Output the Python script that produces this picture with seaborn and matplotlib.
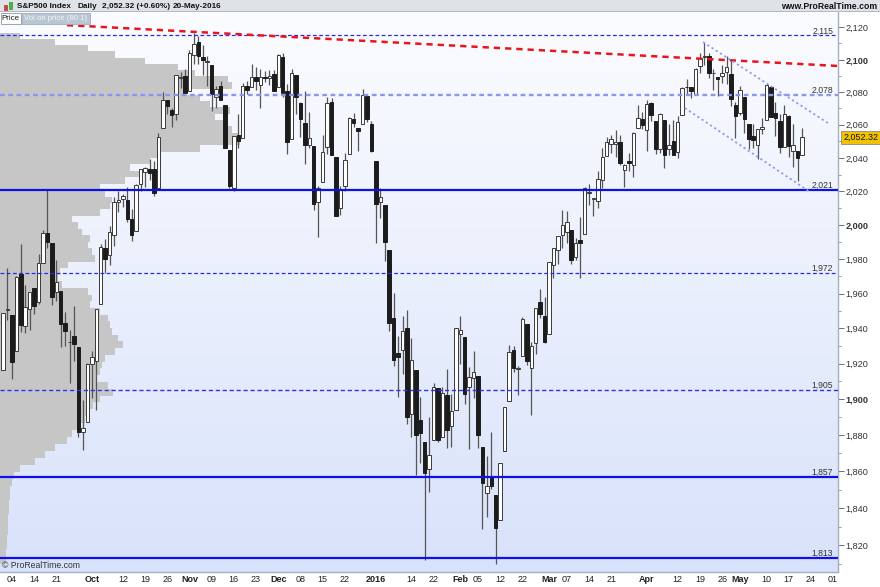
import numpy as np
import pandas as pd
import matplotlib
matplotlib.use("Agg")
import matplotlib.pyplot as plt
import seaborn as sb
from matplotlib.colors import LinearSegmentedColormap
from matplotlib.patches import Rectangle
from matplotlib.ticker import FixedLocator, NullFormatter

# S&P500 daily candles, 02-Sep-2015 .. 20-May-2016
holidays = ['2015-09-07', '2015-11-26', '2015-12-25', '2016-01-01', '2016-01-18',
            '2016-02-15', '2016-03-25', '2016-05-30']
days = pd.bdate_range('2015-09-02', '2016-06-01')
days = days[~days.isin(pd.to_datetime(holidays))]

opens = [
    1916.52, 1950.79, 1947.76, 1927.30, 1971.45, 1941.59, 1951.45, 1963.06, 1955.10, 1978.02,
    1995.33, 1989.66, 1960.84, 1961.39, 1943.24, 1932.24, 1935.93, 1929.18, 1881.90, 1887.14,
    1919.65, 1921.77, 1954.33, 1986.63, 1982.34, 1994.01, 2013.73, 2015.65, 2015.00, 2003.66,
    1996.47, 2024.37, 2031.73, 2033.13, 2033.47, 2021.88, 2058.19, 2075.08, 2068.75, 2066.48,
    2088.35, 2090.00,
    2080.76, 2102.63, 2110.60, 2101.68, 2098.60, 2096.56, 2077.19, 2083.41, 2072.29, 2044.64,
    2022.08, 2053.67, 2051.99, 2083.70, 2082.82, 2089.41, 2084.42, 2089.30, 2088.82, 2090.95,
    2082.93, 2101.71, 2080.71, 2051.24, 2090.42, 2073.39, 2061.17, 2047.93, 2047.27, 2013.37,
    2025.55, 2046.50, 2073.76, 2040.81, 2010.27, 2023.15, 2042.20, 2063.52, 2057.77, 2060.54,
    2077.34, 2060.59,
    2038.20, 2013.78, 2011.71, 1985.32, 1945.97, 1926.12, 1927.83, 1940.34, 1891.68, 1916.68,
    1888.66, 1876.18, 1861.46, 1877.40, 1906.28, 1878.79, 1902.52, 1885.22, 1894.00,
    1936.94, 1935.26, 1907.07, 1911.67, 1913.07, 1873.25, 1848.46, 1857.10, 1847.00, 1833.40,
    1871.44, 1898.80, 1927.57, 1916.74, 1924.44, 1942.38, 1917.56, 1931.87, 1954.95, 1947.13,
    1937.09, 1976.60, 1985.60, 1994.01, 1996.11, 1996.88, 1981.44, 1990.97, 1994.71, 2019.27,
    2015.27, 2014.24, 2026.90, 2041.16, 2048.64, 2048.64, 2049.80, 2032.48, 2037.89, 2035.75,
    2058.27, 2063.77,
    2056.62, 2073.19, 2062.50, 2045.56, 2063.01, 2045.54, 2050.23, 2043.72, 2065.92, 2082.89,
    2083.10, 2078.83, 2096.05, 2101.52, 2102.09, 2091.49, 2089.37, 2089.84, 2092.57, 2090.93,
    2071.82,
    2067.17, 2077.18, 2060.30, 2052.95, 2047.77, 2057.55, 2062.63, 2083.29, 2067.17, 2062.50,
    2046.53, 2065.04, 2044.38, 2044.21, 2041.88]

highs = [
    1948.91, 1975.01, 1947.76, 1970.42, 1988.63, 1965.29, 1961.05, 1963.06, 1983.19, 1997.26,
    2020.86, 1989.66, 1979.64, 1961.39, 1949.52, 1938.88, 1952.89, 1929.18, 1899.48, 1920.53,
    1927.21, 1951.36, 1989.17, 1991.62, 1999.31, 2016.50, 2020.13, 2018.66, 2022.34, 2009.56,
    2024.15, 2033.54, 2034.45, 2039.12, 2037.97, 2055.20, 2079.74, 2075.14, 2070.37, 2090.35,
    2092.52, 2094.32,
    2106.20, 2116.48, 2114.59, 2108.78, 2101.91, 2096.56, 2083.67, 2086.94, 2072.29, 2044.64,
    2053.22, 2066.69, 2085.31, 2086.74, 2097.06, 2095.61, 2094.12, 2093.00, 2093.29, 2093.81,
    2103.37, 2104.27, 2085.00, 2093.84, 2090.42, 2073.85, 2080.33, 2067.65, 2047.27, 2022.92,
    2053.87, 2076.72, 2076.37, 2040.81, 2022.90, 2042.74, 2064.73, 2067.36, 2057.77, 2081.56,
    2077.34, 2062.54,
    2038.20, 2021.94, 2011.71, 1985.32, 1960.40, 1935.65, 1947.38, 1950.33, 1934.47, 1916.68,
    1901.44, 1876.18, 1889.85, 1908.85, 1906.28, 1906.73, 1916.99, 1902.96, 1940.24,
    1947.20, 1935.26, 1918.01, 1927.35, 1913.07, 1873.25, 1868.25, 1881.60, 1847.00, 1864.78,
    1895.77, 1930.68, 1930.00, 1918.78, 1946.70, 1942.38, 1932.08, 1951.83, 1962.96, 1958.27,
    1978.35, 1986.51, 1993.69, 2009.13, 2008.16, 1996.88, 1992.69, 2005.08, 2022.37, 2024.57,
    2015.94, 2032.02, 2046.24, 2052.36, 2053.91, 2056.60, 2053.64, 2036.04, 2042.67, 2055.91,
    2072.21, 2067.92,
    2075.07, 2074.02, 2062.50, 2067.33, 2063.01, 2060.63, 2062.93, 2065.05, 2083.18, 2087.84,
    2083.22, 2094.66, 2104.05, 2111.05, 2103.78, 2094.32, 2089.37, 2096.87, 2102.06, 2099.30,
    2073.85,
    2083.42, 2077.18, 2060.30, 2060.23, 2057.72, 2064.15, 2084.87, 2083.29, 2073.99, 2066.79,
    2071.88, 2065.69, 2060.61, 2044.21, 2058.35]

lows = [
    1916.52, 1944.72, 1911.21, 1927.30, 1937.88, 1937.19, 1939.19, 1948.27, 1954.30, 1977.93,
    1986.73, 1953.45, 1955.80, 1929.22, 1930.19, 1908.92, 1921.50, 1879.21, 1871.91, 1887.14,
    1900.70, 1893.70, 1954.33, 1971.99, 1976.44, 1987.53, 2007.61, 2010.55, 2001.78, 1990.73,
    1996.47, 2020.46, 2022.31, 2026.61, 2017.22, 2021.88, 2058.19, 2066.53, 2058.84, 2063.11,
    2082.63, 2079.34,
    2080.76, 2097.51, 2096.98, 2090.41, 2083.74, 2068.24, 2069.91, 2074.85, 2045.66, 2022.02,
    2019.94, 2045.90, 2051.99, 2078.76, 2082.82, 2081.39, 2070.29, 2086.30, 2084.13, 2080.41,
    2082.93, 2077.11, 2042.35, 2051.24, 2066.78, 2052.32, 2036.53, 2045.67, 2008.80, 1993.26,
    2025.55, 2042.43, 2041.66, 2005.33, 2005.93, 2020.49, 2042.20, 2058.73, 2044.20, 2060.54,
    2061.97, 2043.62,
    1989.68, 2004.17, 1979.05, 1938.83, 1918.46, 1901.10, 1914.35, 1886.41, 1878.93, 1857.83,
    1864.60, 1812.29, 1848.98, 1877.40, 1875.97, 1878.79, 1872.70, 1873.65, 1894.00,
    1920.03, 1897.29, 1872.23, 1900.52, 1872.65, 1828.46, 1834.94, 1850.32, 1810.10, 1833.40,
    1871.44, 1898.80, 1915.09, 1902.17, 1924.44, 1919.44, 1891.00, 1925.41, 1945.78, 1931.81,
    1937.09, 1968.80, 1977.37, 1986.77, 1989.30, 1977.43, 1979.84, 1969.25, 1994.71, 2012.05,
    2005.23, 2010.04, 2022.16, 2041.16, 2043.14, 2040.57, 2035.76, 2022.49, 2031.96, 2028.31,
    2058.27, 2057.46,
    2043.98, 2062.57, 2042.56, 2043.09, 2033.80, 2041.69, 2041.88, 2039.74, 2065.92, 2078.13,
    2076.31, 2078.83, 2091.68, 2096.32, 2088.52, 2081.20, 2077.52, 2085.80, 2085.06, 2071.62,
    2052.28,
    2066.11, 2054.89, 2045.55, 2045.77, 2039.45, 2054.31, 2062.63, 2064.46, 2053.13, 2043.13,
    2046.53, 2040.82, 2034.49, 2025.91, 2041.88]

closes = [
    1948.86, 1951.13, 1921.22, 1969.41, 1942.04, 1952.29, 1961.05, 1953.03, 1978.09, 1995.31,
    1990.20, 1958.03, 1966.97, 1942.74, 1938.76, 1932.24, 1931.34, 1881.77, 1884.09, 1920.03,
    1923.82, 1951.36, 1987.05, 1979.92, 1995.83, 2013.43, 2014.89, 2017.46, 2003.69, 1994.24,
    2023.86, 2033.11, 2033.66, 2030.77, 2018.94, 2052.51, 2075.15, 2071.18, 2065.89, 2090.35,
    2089.41, 2079.36,
    2104.05, 2109.79, 2102.31, 2099.93, 2099.20, 2078.58, 2081.72, 2075.00, 2045.97, 2023.04,
    2053.19, 2050.44, 2083.58, 2081.24, 2089.17, 2086.59, 2089.14, 2088.87, 2090.11, 2080.41,
    2102.63, 2079.51, 2049.62, 2091.69, 2077.07, 2063.59, 2047.62, 2052.23, 2012.37, 2021.94,
    2043.41, 2073.07, 2041.89, 2005.55, 2021.15, 2038.97, 2064.29, 2060.99, 2056.50, 2078.36,
    2063.36, 2043.94,
    2012.66, 2016.71, 1990.26, 1943.09, 1922.03, 1923.67, 1938.68, 1890.28, 1921.84, 1880.33,
    1881.33, 1859.33, 1868.99, 1906.90, 1877.08, 1903.63, 1882.95, 1893.36, 1940.24,
    1939.38, 1903.03, 1912.53, 1915.45, 1880.05, 1853.44, 1852.21, 1851.86, 1829.08, 1864.78,
    1895.58, 1926.82, 1917.83, 1917.78, 1945.50, 1921.27, 1929.80, 1951.70, 1948.05, 1932.23,
    1978.35, 1986.45, 1993.40, 1999.99, 2001.76, 1979.26, 1989.26, 1989.57, 2022.19, 2019.64,
    2015.93, 2027.22, 2040.59, 2049.58, 2051.60, 2049.80, 2036.71, 2035.94, 2037.05, 2055.01,
    2063.95, 2059.74,
    2072.78, 2066.13, 2045.17, 2066.66, 2041.91, 2047.60, 2041.99, 2061.72, 2082.42, 2082.78,
    2080.73, 2094.34, 2100.80, 2102.40, 2091.48, 2091.58, 2087.79, 2091.70, 2095.15, 2075.81,
    2065.30,
    2081.43, 2063.37, 2051.12, 2050.63, 2057.14, 2058.69, 2084.39, 2064.46, 2064.11, 2046.61,
    2066.66, 2047.21, 2047.63, 2040.04, 2052.32]

# volume on price, 80 rows from the low to the high (bottom row first)
prof_low, prof_high = 1810.10, 2116.48
prof_vol = [6, 6, 7, 7, 8, 8, 8, 9, 9, 10, 10, 12, 14, 20, 35, 45, 55, 67, 72, 80,
            85, 88, 93, 100, 113, 108, 97, 100, 102, 105, 115, 123, 118, 112, 110, 108, 100, 90, 92, 88,
            62, 58, 60, 68, 95, 92, 88, 90, 82, 78, 72, 100, 110, 112, 105, 100, 125, 140, 130, 150,
            160, 200, 240, 238, 232, 225, 215, 230, 210, 200, 185, 232, 228, 195, 178, 145, 115, 88, 55, 20]

# horizontal levels and trend lines
levels = [2115, 2078, 2021, 1972, 1905, 1857, 1813]
red_x, red_y = [14.4, 188.1], [2121.4, 2096.0]
chan_up_x, chan_up_y = [157.7, 185.8], [2110.8, 2061.1]
chan_lo_x, chan_lo_y = [153.6, 181.8], [2070.2, 2019.6]

tick_dates = ['2015-09-04', '2015-09-14', '2015-09-21', '2015-10-01', '2015-10-12', '2015-10-19',
              '2015-10-26', '2015-11-02', '2015-11-09', '2015-11-16', '2015-11-23', '2015-12-01',
              '2015-12-08', '2015-12-15', '2015-12-22', '2016-01-04', '2016-01-14', '2016-01-22',
              '2016-02-01', '2016-02-05', '2016-02-12', '2016-02-22', '2016-03-01', '2016-03-07',
              '2016-03-14', '2016-03-21', '2016-04-01', '2016-04-12', '2016-04-19', '2016-04-26',
              '2016-05-02', '2016-05-10', '2016-05-17', '2016-05-24', '2016-06-01']
tick_labels = ['04', '14', '21', 'Oct', '12', '19', '26', 'Nov', '09', '16', '23', 'Dec', '08', '15',
               '22', '2016', '14', '22', 'Feb', '05', '12', '22', 'Mar', '07', '14', '21', 'Apr',
               '12', '19', '26', 'May', '10', '17', '24', '01']

#Style
sb.set_style("white")
plt.rcParams['font.family'] = ['Liberation Sans', 'DejaVu Sans']

W, H = 880, 587
fig = plt.figure(figsize=(8.8, 5.87), dpi=100)
pos = [0, 15 / H, 838 / W, 560 / H]

bg = fig.add_axes(pos, zorder=0)
grad = np.linspace(0, 1, 256).reshape(-1, 1)
bg.imshow(grad, aspect='auto', extent=[0, 1, 0, 1],
          cmap=LinearSegmentedColormap.from_list('bg', ['#fbfcff', '#d8e2fa']))
bg.axis('off')

ax = fig.add_axes(pos, zorder=1)
ax.patch.set_alpha(0)
ax.set_yscale('log')
xmin, xmax = -0.68, 188.1
ax.set_xlim(xmin, xmax)
ax.set_ylim(1805.7, 2129.6)

# volume profile
step = (prof_high - prof_low) / len(prof_vol)
edges = prof_low + step * np.arange(len(prof_vol))
scale = 54.0 / max(prof_vol)
ax.barh(edges, np.array(prof_vol) * scale, height=step, left=xmin, align='edge',
        color='#c6c6c6', lw=0, zorder=1)

# candles
o, h, l, c = map(np.array, (opens, highs, lows, closes))
x = np.arange(len(c))
up = c >= o
ax.vlines(x, l, h, color='#555555', lw=0.9, zorder=3)
ax.bar(x[up], (c - o)[up], bottom=o[up], width=0.78, color='white',
       edgecolor='#3a3a3a', lw=0.7, zorder=4)
ax.bar(x[~up], (o - c)[~up], bottom=c[~up], width=0.78, color='#1c1c1c',
       edgecolor='#1c1c1c', lw=0.7, zorder=4)

# levels
lvl_style = {2115: ('#2a2ae6', (0, (3, 2)), 0.9), 2078: ('#8c95f0', (0, (2, 1.5)), 1.7),
             2021: ('#0c12e0', '-', 1.6), 1972: ('#2a2ae6', (0, (3, 2)), 0.9),
             1905: ('#3030f0', (0, (3, 2)), 1.0), 1857: ('#1010ee', '-', 1.6),
             1813: ('#1010ee', '-', 1.6)}
ytr = ax.get_yaxis_transform()
for v in levels:
    col, ls, lw = lvl_style[v]
    ax.axhline(v, color=col, ls=ls, lw=lw, zorder=5)
    ax.text(0.994, v, f'{v:,}', transform=ytr, ha='right', va='bottom',
            fontsize=6.2, color='#333333', zorder=6)

# trend lines
sb.lineplot(x=red_x, y=red_y, ax=ax, color='#e8141e', lw=1.8, linestyle=(0, (2.5, 2)), zorder=6)
sb.lineplot(x=chan_up_x, y=chan_up_y, ax=ax, color='#8f9af0', lw=1.3, linestyle=(0, (1.2, 1.6)), zorder=6)
sb.lineplot(x=chan_lo_x, y=chan_lo_y, ax=ax, color='#8f9af0', lw=1.3, linestyle=(0, (1.2, 1.6)), zorder=6)
ax.set_xlabel('')
ax.set_ylabel('')

# y axis on the right
ax.yaxis.tick_right()
major = list(range(1820, 2121, 20))
ax.yaxis.set_major_locator(FixedLocator(major))
ax.yaxis.set_minor_locator(FixedLocator(list(range(1810, 2130, 20))))
ax.yaxis.set_minor_formatter(NullFormatter())
ax.set_yticklabels([f'{v:,}' for v in major])
for lab, v in zip(ax.get_yticklabels(), major):
    if v % 100 == 0:
        lab.set_fontweight('bold')
ax.tick_params(axis='y', which='major', length=4, width=0.6, color='#556',
               labelsize=6.6, labelcolor='#333333', pad=1.5)
ax.tick_params(axis='y', which='minor', length=2.5, width=0.6, color='#889')

# x axis
tick_pos = days.get_indexer(pd.to_datetime(tick_dates))
ax.set_xticks(tick_pos)
ax.set_xticklabels(tick_labels)
for lab, t in zip(ax.get_xticklabels(), tick_labels):
    if not (len(t) == 2 and t.isdigit()):
        lab.set_fontweight('bold')
ax.tick_params(axis='x', length=2, width=0.6, color='#889', labelsize=6.5,
               labelcolor='#222222', pad=0.5)

for s in ('top', 'left'):
    ax.spines[s].set_visible(False)
for s in ('right', 'bottom'):
    ax.spines[s].set_color('#a3b1c0')
    ax.spines[s].set_linewidth(1.0)

# last price tag
ax.text(1.006, c[-1], f'{c[-1]:,.2f}', transform=ytr, ha='left', va='center', fontsize=6.4,
        color='#111111', clip_on=False, zorder=7,
        bbox=dict(boxstyle='square,pad=0.18', fc='#f2c200', ec='#8a8a8a', lw=0.6))

ax.text(0.002, 0.004, '\u00a9 ProRealTime.com', transform=ax.transAxes, fontsize=6.2,
        color='#333333', ha='left', va='bottom', zorder=7)


def rect(x0, y0, x1, y1, **kw):
    fig.patches.append(Rectangle((x0 / W, 1 - y1 / H), (x1 - x0) / W, (y1 - y0) / H,
                                 transform=fig.transFigure, zorder=8, **kw))


# header bar
rect(0, 0, W, 12, facecolor='#dfe3e7', edgecolor='none')
rect(0, 11.4, W, 12, facecolor='#b0bac4', edgecolor='none')
rect(3.5, 5, 7, 10, facecolor='#e03a3a', edgecolor='#a02020', lw=0.4)
rect(8.5, 2.5, 12, 8.5, facecolor='#3cc03c', edgecolor='#208020', lw=0.4)
hy = 1 - 6.3 / H
for xx, t in [(17, 'S&P500 Index'), (77, 'Daily'), (102, '2,052.32 (+0.60%)'), (173, '20-May-2016')]:
    fig.text(xx / W, hy, t, fontsize=5.9, fontweight='bold', va='center', color='#111111', zorder=9)
fig.text(877 / W, hy, 'www.ProRealTime.com', fontsize=6.2, fontweight='bold', ha='right',
         va='center', color='#111111', zorder=9)

# tabs
rect(0.5, 13, 21, 24, facecolor='white', edgecolor='#8a98a8', lw=0.6)
rect(22, 13, 90, 24, facecolor='#b9c6d3', edgecolor='#a0afbf', lw=0.6)
fig.text(1.8 / W, 1 - 18.7 / H, 'Price', fontsize=5.8, va='center', color='#222222', zorder=9)
fig.text(23.5 / W, 1 - 18.7 / H, 'Vol on price (80 1)', fontsize=5.6, va='center',
         color='#f2f5f8', zorder=9)

fig.savefig('out.png', dpi=100)
